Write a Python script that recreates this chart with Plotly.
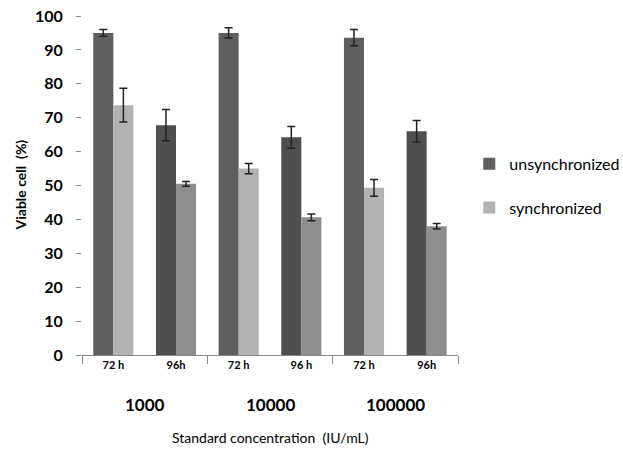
import plotly.graph_objects as go

# data
groups = ["1000", "10000", "100000"]
times = ["72 h", "96h", "72 h", "96 h", "72 h", "96h"]
unsync = [95.0, 67.8, 95.0, 64.2, 93.6, 66.0]
unsync_err = [1.0, 4.6, 1.5, 3.2, 2.4, 3.2]
sync = [73.7, 50.5, 55.0, 40.6, 49.3, 38.0]
sync_err = [5.0, 0.7, 1.5, 1.0, 2.5, 0.8]

unsync_colors = ["#5f5f5f", "#4f4f4f"] * 3
sync_colors = ["#b2b2b2", "#8e8e8e"] * 3

FONT = "Lato"
pos = list(range(len(times)))

fig = go.Figure()
fig.add_trace(go.Bar(
    x=pos, y=unsync, name="unsynchronized", legendgroup="a",
    marker=dict(color=unsync_colors, line=dict(width=0)),
    error_y=dict(type="data", array=unsync_err, color="#222222", thickness=1.5, width=4),
))
fig.add_trace(go.Bar(
    x=pos, y=sync, name="synchronized", legendgroup="b",
    marker=dict(color=sync_colors, line=dict(width=0)),
    error_y=dict(type="data", array=sync_err, color="#222222", thickness=1.5, width=4),
))

annotations = []
for i, g in enumerate(groups):
    annotations.append(dict(
        x=2 * i + 0.5, y=0, xref="x", yref="paper", yanchor="middle",
        yshift=-49, text=f"<b>{g}</b>", showarrow=False,
        font=dict(family=FONT, size=17, color="black"),
    ))
annotations.append(dict(
    x=0.5, y=0, xref="paper", yref="paper", yanchor="middle", yshift=-82,
    text="Standard concentration  (IU/mL)", showarrow=False,
    font=dict(family=FONT, size=14, color="black"),
))
annotations.append(dict(
    x=0, y=0.5, xref="paper", yref="paper", xanchor="center", xshift=-62,
    text="<b>Viable cell  (%)</b>", textangle=-90, showarrow=False,
    font=dict(family=FONT, size=14, color="black"),
))

fig.update_layout(
    width=623, height=449,
    margin=dict(l=82, r=165, t=16, b=94, autoexpand=False),
    paper_bgcolor="white", plot_bgcolor="white",
    barmode="group", bargap=0.36, bargroupgap=0,
    font=dict(family=FONT, color="black"),
    showlegend=True,
    # legend sits to the right of the plot area
    legend=dict(
        xref="paper", x=1.03, y=0.614, xanchor="left", yanchor="top",
        traceorder="grouped", tracegroupgap=20,
        font=dict(family=FONT, size=16, color="black"),
        itemwidth=30,
    ),
    annotations=annotations,
)
fig.update_xaxes(
    range=[-0.5, 5.5], tickmode="array", tickvals=pos, ticktext=[f"<b>{t}</b>" for t in times],
    tickfont=dict(family=FONT, size=11, color="black"),
    showline=True, linecolor="#888888", linewidth=1, ticks="", showgrid=False,
    minor=dict(tickmode="array", tickvals=[-0.5, 1.5, 3.5, 5.5], ticks="outside",
               ticklen=8, tickcolor="#888888", tickwidth=1),
)
fig.update_yaxes(
    range=[0, 100], tickmode="array", tickvals=list(range(0, 101, 10)),
    ticktext=[f"<b>{v}</b>" for v in range(0, 101, 10)],
    tickfont=dict(family=FONT, size=16, color="black"),
    showline=False, showgrid=False, zeroline=False,
    ticks="outside", ticklen=5, tickcolor="#888888",
    ticklabelstandoff=10, ticklabeloverflow="allow",
)

# drop the default body margin so the figure fills the window exactly
fig.write_html("out.html", config={"displayModeBar": False},
               post_script="document.body.style.margin='0px';")
